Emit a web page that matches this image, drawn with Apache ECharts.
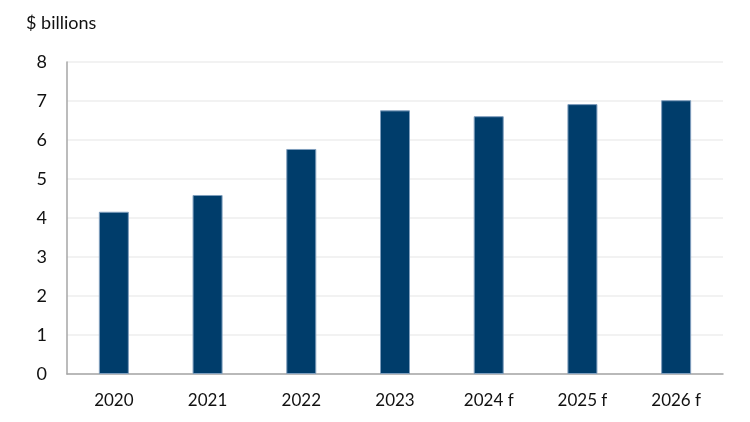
<!DOCTYPE html>
<html><head><meta charset="utf-8">
<script src="https://cdn.jsdelivr.net/npm/echarts@6/dist/echarts.min.js"></script>
<style>html,body{margin:0;padding:0;background:#fff}#c{width:750px;height:422px}</style>
</head><body><div id="c"></div>
<script>
var categories = ['2020','2021','2022','2023','2024 f','2025 f','2026 f'];
var values = [4.16, 4.59, 5.77, 6.76, 6.61, 6.92, 7.02];
var yTicks = [0,1,2,3,4,5,6,7,8];
var unitLabel = '$ billions';

var chart = echarts.init(document.getElementById('c'), null, {renderer:'canvas'});
var font = 'Lato, "Open Sans", sans-serif';
chart.setOption({
  animation:false,
  backgroundColor:'#fff',
  title:{text:unitLabel,left:21,top:9,textStyle:{fontFamily:font,fontSize:18,fontWeight:'normal',color:'#111'}},
  grid:{left:67,right:27,top:62,bottom:48},
  xAxis:{type:'category',data:categories,
    axisLine:{lineStyle:{color:'#a6a6a6',width:1.5}},
    axisTick:{show:false},
    axisLabel:{fontFamily:font,fontSize:17,color:'#111',margin:18}},
  yAxis:{type:'value',min:yTicks[0],max:yTicks[yTicks.length-1],interval:1,
    axisLine:{show:true,lineStyle:{color:'#a6a6a6',width:1.5}},
    axisTick:{show:false},
    splitLine:{lineStyle:{color:'#eeeeee',width:1.5}},
    axisLabel:{fontFamily:font,fontSize:18,color:'#111',margin:20}},
  series:[{type:'bar',data:values,barWidth:30,
    itemStyle:{color:'#003d6b',borderColor:'#7f9ebd',borderWidth:1}}]
});
</script></body></html>
